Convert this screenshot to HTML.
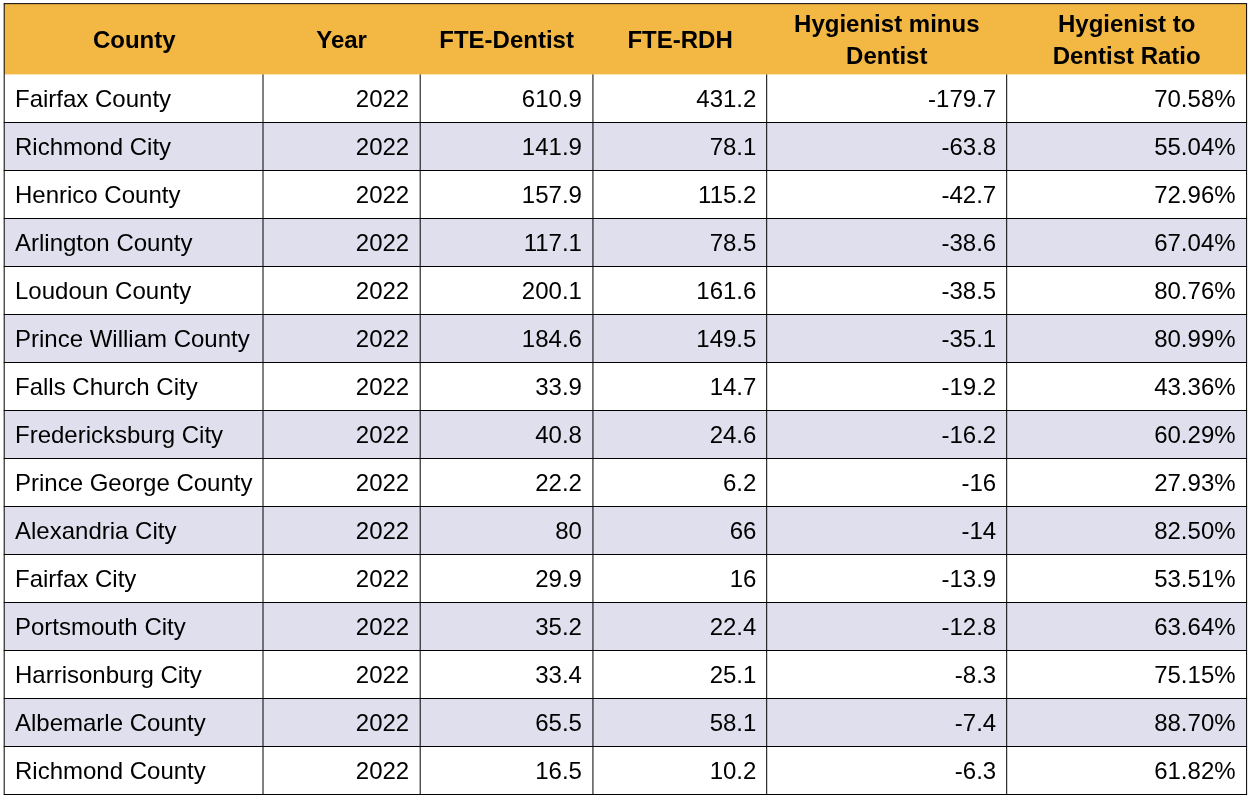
<!DOCTYPE html>
<html lang="en">
<head>
<meta charset="utf-8">
<title>FTE Dentist vs Hygienist by County</title>
<style>
html,body{margin:0;padding:0;background:#fff;}
body{width:1250px;height:796px;position:relative;overflow:hidden;font-family:"Liberation Sans",sans-serif;color:#000;}
#grid{position:absolute;left:0;top:0;width:1250px;height:796px;display:block;}
#tbl{position:absolute;left:0;top:0;width:1250px;height:796px;font-size:24px;line-height:32px;will-change:transform;transform:translate(0.7px,0px);}
#tbl div{position:absolute;white-space:nowrap;height:32px;}
#tbl .h{font-weight:bold;text-align:center;}
#tbl .l{text-align:left;}
#tbl .r{text-align:right;}

</style>
</head>
<body>
<svg id="grid" width="1250" height="796" viewBox="0 0 1250 796">
<rect x="4.20" y="3.65" width="1242.40" height="70.75" fill="#F3B844"/>
<rect x="4.20" y="122.50" width="1242.40" height="48.00" fill="#E0DFED"/>
<rect x="4.20" y="218.50" width="1242.40" height="48.00" fill="#E0DFED"/>
<rect x="4.20" y="314.50" width="1242.40" height="48.00" fill="#E0DFED"/>
<rect x="4.20" y="410.50" width="1242.40" height="48.00" fill="#E0DFED"/>
<rect x="4.20" y="506.50" width="1242.40" height="48.00" fill="#E0DFED"/>
<rect x="4.20" y="602.50" width="1242.40" height="48.00" fill="#E0DFED"/>
<rect x="4.20" y="698.50" width="1242.40" height="48.00" fill="#E0DFED"/>
<g stroke="#000" stroke-width="1.00" fill="none">
<line x1="3.70" y1="3.65" x2="1247.10" y2="3.65"/>
<line x1="3.70" y1="122.50" x2="1247.10" y2="122.50"/>
<line x1="3.70" y1="170.50" x2="1247.10" y2="170.50"/>
<line x1="3.70" y1="218.50" x2="1247.10" y2="218.50"/>
<line x1="3.70" y1="266.50" x2="1247.10" y2="266.50"/>
<line x1="3.70" y1="314.50" x2="1247.10" y2="314.50"/>
<line x1="3.70" y1="362.50" x2="1247.10" y2="362.50"/>
<line x1="3.70" y1="410.50" x2="1247.10" y2="410.50"/>
<line x1="3.70" y1="458.50" x2="1247.10" y2="458.50"/>
<line x1="3.70" y1="506.50" x2="1247.10" y2="506.50"/>
<line x1="3.70" y1="554.50" x2="1247.10" y2="554.50"/>
<line x1="3.70" y1="602.50" x2="1247.10" y2="602.50"/>
<line x1="3.70" y1="650.50" x2="1247.10" y2="650.50"/>
<line x1="3.70" y1="698.50" x2="1247.10" y2="698.50"/>
<line x1="3.70" y1="746.50" x2="1247.10" y2="746.50"/>
<line x1="3.70" y1="794.50" x2="1247.10" y2="794.50"/>
<line x1="4.20" y1="3.65" x2="4.20" y2="794.50"/>
<line x1="1246.60" y1="3.65" x2="1246.60" y2="794.50"/>
<line x1="263.00" y1="74.40" x2="263.00" y2="794.50"/>
<line x1="420.20" y1="74.40" x2="420.20" y2="794.50"/>
<line x1="592.95" y1="74.40" x2="592.95" y2="794.50"/>
<line x1="766.70" y1="74.40" x2="766.70" y2="794.50"/>
<line x1="1006.70" y1="74.40" x2="1006.70" y2="794.50"/>
</g></svg>
<div id="tbl">
<div class="h" style="left:4.20px;width:258.80px;top:23.68px">County</div>
<div class="h" style="left:262.30px;width:157.20px;top:23.68px">Year</div>
<div class="h" style="left:419.50px;width:172.75px;top:23.68px">FTE-Dentist</div>
<div class="h" style="left:592.55px;width:173.75px;top:23.68px">FTE-RDH</div>
<div class="h" style="left:766.10px;width:240.00px;top:7.68px">Hygienist minus</div>
<div class="h" style="left:766.10px;width:240.00px;top:39.68px">Dentist</div>
<div class="h" style="left:1006.00px;width:239.90px;top:7.68px">Hygienist to</div>
<div class="h" style="left:1006.00px;width:239.90px;top:39.68px">Dentist Ratio</div>
<div class="l" style="left:14.30px;width:248.70px;top:82.68px">Fairfax County</div>
<div class="r" style="left:263.00px;width:145.50px;top:82.68px">2022</div>
<div class="r" style="left:420.20px;width:161.05px;top:82.68px">610.9</div>
<div class="r" style="left:592.95px;width:162.75px;top:82.68px">431.2</div>
<div class="r" style="left:766.70px;width:228.80px;top:82.68px">-179.7</div>
<div class="r" style="left:1006.70px;width:228.20px;top:82.68px">70.58%</div>
<div class="l" style="left:14.30px;width:248.70px;top:130.68px">Richmond City</div>
<div class="r" style="left:263.00px;width:145.50px;top:130.68px">2022</div>
<div class="r" style="left:420.20px;width:161.05px;top:130.68px">141.9</div>
<div class="r" style="left:592.95px;width:162.75px;top:130.68px">78.1</div>
<div class="r" style="left:766.70px;width:228.80px;top:130.68px">-63.8</div>
<div class="r" style="left:1006.70px;width:228.20px;top:130.68px">55.04%</div>
<div class="l" style="left:14.30px;width:248.70px;top:178.68px">Henrico County</div>
<div class="r" style="left:263.00px;width:145.50px;top:178.68px">2022</div>
<div class="r" style="left:420.20px;width:161.05px;top:178.68px">157.9</div>
<div class="r" style="left:592.95px;width:162.75px;top:178.68px">115.2</div>
<div class="r" style="left:766.70px;width:228.80px;top:178.68px">-42.7</div>
<div class="r" style="left:1006.70px;width:228.20px;top:178.68px">72.96%</div>
<div class="l" style="left:14.30px;width:248.70px;top:226.68px">Arlington County</div>
<div class="r" style="left:263.00px;width:145.50px;top:226.68px">2022</div>
<div class="r" style="left:420.20px;width:161.05px;top:226.68px">117.1</div>
<div class="r" style="left:592.95px;width:162.75px;top:226.68px">78.5</div>
<div class="r" style="left:766.70px;width:228.80px;top:226.68px">-38.6</div>
<div class="r" style="left:1006.70px;width:228.20px;top:226.68px">67.04%</div>
<div class="l" style="left:14.30px;width:248.70px;top:274.68px">Loudoun County</div>
<div class="r" style="left:263.00px;width:145.50px;top:274.68px">2022</div>
<div class="r" style="left:420.20px;width:161.05px;top:274.68px">200.1</div>
<div class="r" style="left:592.95px;width:162.75px;top:274.68px">161.6</div>
<div class="r" style="left:766.70px;width:228.80px;top:274.68px">-38.5</div>
<div class="r" style="left:1006.70px;width:228.20px;top:274.68px">80.76%</div>
<div class="l" style="left:14.30px;width:248.70px;top:322.68px">Prince William County</div>
<div class="r" style="left:263.00px;width:145.50px;top:322.68px">2022</div>
<div class="r" style="left:420.20px;width:161.05px;top:322.68px">184.6</div>
<div class="r" style="left:592.95px;width:162.75px;top:322.68px">149.5</div>
<div class="r" style="left:766.70px;width:228.80px;top:322.68px">-35.1</div>
<div class="r" style="left:1006.70px;width:228.20px;top:322.68px">80.99%</div>
<div class="l" style="left:14.30px;width:248.70px;top:370.68px">Falls Church City</div>
<div class="r" style="left:263.00px;width:145.50px;top:370.68px">2022</div>
<div class="r" style="left:420.20px;width:161.05px;top:370.68px">33.9</div>
<div class="r" style="left:592.95px;width:162.75px;top:370.68px">14.7</div>
<div class="r" style="left:766.70px;width:228.80px;top:370.68px">-19.2</div>
<div class="r" style="left:1006.70px;width:228.20px;top:370.68px">43.36%</div>
<div class="l" style="left:14.30px;width:248.70px;top:418.68px">Fredericksburg City</div>
<div class="r" style="left:263.00px;width:145.50px;top:418.68px">2022</div>
<div class="r" style="left:420.20px;width:161.05px;top:418.68px">40.8</div>
<div class="r" style="left:592.95px;width:162.75px;top:418.68px">24.6</div>
<div class="r" style="left:766.70px;width:228.80px;top:418.68px">-16.2</div>
<div class="r" style="left:1006.70px;width:228.20px;top:418.68px">60.29%</div>
<div class="l" style="left:14.30px;width:248.70px;top:466.68px">Prince George County</div>
<div class="r" style="left:263.00px;width:145.50px;top:466.68px">2022</div>
<div class="r" style="left:420.20px;width:161.05px;top:466.68px">22.2</div>
<div class="r" style="left:592.95px;width:162.75px;top:466.68px">6.2</div>
<div class="r" style="left:766.70px;width:228.80px;top:466.68px">-16</div>
<div class="r" style="left:1006.70px;width:228.20px;top:466.68px">27.93%</div>
<div class="l" style="left:14.30px;width:248.70px;top:514.68px">Alexandria City</div>
<div class="r" style="left:263.00px;width:145.50px;top:514.68px">2022</div>
<div class="r" style="left:420.20px;width:161.05px;top:514.68px">80</div>
<div class="r" style="left:592.95px;width:162.75px;top:514.68px">66</div>
<div class="r" style="left:766.70px;width:228.80px;top:514.68px">-14</div>
<div class="r" style="left:1006.70px;width:228.20px;top:514.68px">82.50%</div>
<div class="l" style="left:14.30px;width:248.70px;top:562.68px">Fairfax City</div>
<div class="r" style="left:263.00px;width:145.50px;top:562.68px">2022</div>
<div class="r" style="left:420.20px;width:161.05px;top:562.68px">29.9</div>
<div class="r" style="left:592.95px;width:162.75px;top:562.68px">16</div>
<div class="r" style="left:766.70px;width:228.80px;top:562.68px">-13.9</div>
<div class="r" style="left:1006.70px;width:228.20px;top:562.68px">53.51%</div>
<div class="l" style="left:14.30px;width:248.70px;top:610.68px">Portsmouth City</div>
<div class="r" style="left:263.00px;width:145.50px;top:610.68px">2022</div>
<div class="r" style="left:420.20px;width:161.05px;top:610.68px">35.2</div>
<div class="r" style="left:592.95px;width:162.75px;top:610.68px">22.4</div>
<div class="r" style="left:766.70px;width:228.80px;top:610.68px">-12.8</div>
<div class="r" style="left:1006.70px;width:228.20px;top:610.68px">63.64%</div>
<div class="l" style="left:14.30px;width:248.70px;top:658.68px">Harrisonburg City</div>
<div class="r" style="left:263.00px;width:145.50px;top:658.68px">2022</div>
<div class="r" style="left:420.20px;width:161.05px;top:658.68px">33.4</div>
<div class="r" style="left:592.95px;width:162.75px;top:658.68px">25.1</div>
<div class="r" style="left:766.70px;width:228.80px;top:658.68px">-8.3</div>
<div class="r" style="left:1006.70px;width:228.20px;top:658.68px">75.15%</div>
<div class="l" style="left:14.30px;width:248.70px;top:706.68px">Albemarle County</div>
<div class="r" style="left:263.00px;width:145.50px;top:706.68px">2022</div>
<div class="r" style="left:420.20px;width:161.05px;top:706.68px">65.5</div>
<div class="r" style="left:592.95px;width:162.75px;top:706.68px">58.1</div>
<div class="r" style="left:766.70px;width:228.80px;top:706.68px">-7.4</div>
<div class="r" style="left:1006.70px;width:228.20px;top:706.68px">88.70%</div>
<div class="l" style="left:14.30px;width:248.70px;top:754.68px">Richmond County</div>
<div class="r" style="left:263.00px;width:145.50px;top:754.68px">2022</div>
<div class="r" style="left:420.20px;width:161.05px;top:754.68px">16.5</div>
<div class="r" style="left:592.95px;width:162.75px;top:754.68px">10.2</div>
<div class="r" style="left:766.70px;width:228.80px;top:754.68px">-6.3</div>
<div class="r" style="left:1006.70px;width:228.20px;top:754.68px">61.82%</div>
</div>
</body>
</html>
